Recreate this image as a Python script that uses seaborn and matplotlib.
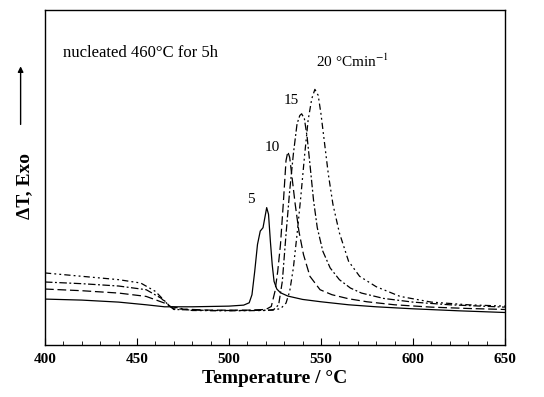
import matplotlib
matplotlib.use("Agg")
import matplotlib.pyplot as plt
import seaborn as sns
import pandas as pd
from matplotlib.ticker import MultipleLocator

# Heating-rate curves (DTA, arbitrary units)
T5 = [400, 420, 440, 455, 465, 480, 500, 508, 511, 512.5, 514, 515.5, 517, 518.5, 519.5, 520.5,
      521.5, 522.5, 523.5, 524.5, 526, 528, 532, 540, 550, 565, 580, 600, 625, 650]
Y5 = [0.137, 0.134, 0.128, 0.120, 0.114, 0.114, 0.116, 0.119, 0.126, 0.15, 0.22, 0.30, 0.34, 0.35,
      0.38, 0.41, 0.39, 0.31, 0.24, 0.19, 0.167, 0.156, 0.146, 0.136, 0.129, 0.12, 0.114, 0.108, 0.102, 0.097]

T10 = [400, 420, 440, 455, 465, 470, 490, 510, 520, 523, 525, 526.5, 528, 529.5, 531, 532, 533,
       534.5, 536, 538, 540.5, 544, 549.5, 556, 565, 575, 590, 610, 630, 650]
Y10 = [0.167, 0.162, 0.155, 0.145, 0.125, 0.108, 0.104, 0.104, 0.106, 0.115, 0.16, 0.22, 0.30, 0.42,
       0.55, 0.577, 0.56, 0.49, 0.42, 0.34, 0.27, 0.205, 0.165, 0.15, 0.138, 0.129, 0.12, 0.113, 0.109, 0.106]

T15 = [400, 420, 440, 455, 463, 470, 490, 510, 524, 527, 529, 531, 533, 535, 537, 538.5, 539.5,
       541, 542.5, 544, 546, 548, 551, 555, 560, 566, 572, 584, 600, 620, 650]
Y15 = [0.188, 0.183, 0.176, 0.165, 0.14, 0.106, 0.103, 0.103, 0.104, 0.12, 0.19, 0.33, 0.46, 0.57,
       0.66, 0.685, 0.69, 0.675, 0.62, 0.54, 0.43, 0.35, 0.28, 0.23, 0.195, 0.17, 0.155, 0.139, 0.128, 0.12, 0.113]

T20 = [400, 420, 440, 452, 460, 468, 480, 500, 520, 528, 531, 533, 535, 537, 539, 541, 543, 545,
       546.7, 548.5, 550, 552, 554, 556.5, 560, 565, 571, 580, 593, 610, 630, 650]
Y20 = [0.215, 0.205, 0.195, 0.185, 0.16, 0.115, 0.103, 0.102, 0.103, 0.108, 0.125, 0.16, 0.23, 0.33,
       0.44, 0.56, 0.67, 0.735, 0.763, 0.745, 0.69, 0.6, 0.51, 0.42, 0.335, 0.25, 0.205, 0.174, 0.145,
       0.128, 0.12, 0.116]

rate_labels = ["5", "10", "15", "20 °Cmin$^{-1}$"]
label_pos_T = [511.8, 523.7, 534.0, 547.5]
label_pos_Y = [0.433, 0.59, 0.731, 0.848]

x_ticks = [400, 450, 500, 550, 600, 650]

sns.set_theme(style="white")
plt.rcParams['font.family'] = ['Liberation Serif', 'DejaVu Serif']
plt.rcParams['mathtext.fontset'] = 'stix'
plt.rcParams['text.color'] = 'black'
plt.rcParams['axes.labelcolor'] = 'black'
plt.rcParams['xtick.color'] = 'black'

fig = plt.figure(figsize=(5.44, 3.97), dpi=100)
ax = fig.add_axes([0.0827, 0.131, 0.8455, 0.844])

series = [(T5, Y5, '-'), (T10, Y10, (0, (7, 3))), (T15, Y15, (0, (6, 2, 1.5, 2))),
          (T20, Y20, (0, (5, 2.5, 1.5, 2.5, 1.5, 2.5)))]
for T, Y, ls in series:
    df = pd.DataFrame({"T": T, "Y": Y})
    sns.lineplot(data=df, x="T", y="Y", ax=ax, color='black', linewidth=0.9,
                 linestyle=ls, sort=False, estimator=None)

ax.set_xlim(400, 650)
ax.set_ylim(0, 1)
ax.set_xticks(x_ticks)
ax.xaxis.set_minor_locator(MultipleLocator(10))
ax.set_yticks([])
ax.tick_params(axis='x', which='major', direction='in', length=5, width=0.8, color='black',
               labelsize=11, pad=6, bottom=True, labelcolor='black')
ax.tick_params(axis='x', which='minor', direction='in', length=3, width=0.6, color='black', bottom=True)
for lab in ax.get_xticklabels():
    lab.set_fontweight('bold')
for s in ax.spines.values():
    s.set_color('black')
    s.set_linewidth(1.0)

ax.set_xlabel("Temperature / °C", fontsize=14, fontweight='bold', labelpad=3, color='black')
ax.set_ylabel("")

ax.text(-0.045, 0.475, "ΔT, Exo", transform=ax.transAxes, rotation=90, fontsize=14,
        fontweight='bold', ha='center', va='center', color='black')
ax.annotate("", xy=(-0.053, 0.84), xytext=(-0.053, 0.65), xycoords='axes fraction',
            textcoords='axes fraction', annotation_clip=False,
            arrowprops=dict(arrowstyle='-|>', color='black', lw=1.0, mutation_scale=8))

ax.text(410, 0.871, "nucleated 460°C for 5h", fontsize=12, ha='left', va='center', color='black')
for lab, tx, ty in zip(rate_labels, label_pos_T, label_pos_Y):
    ax.text(tx, ty, lab, fontsize=11, ha='center' if lab != rate_labels[-1] else 'left',
            va='center', color='black')

fig.savefig("out.png", dpi=100)
